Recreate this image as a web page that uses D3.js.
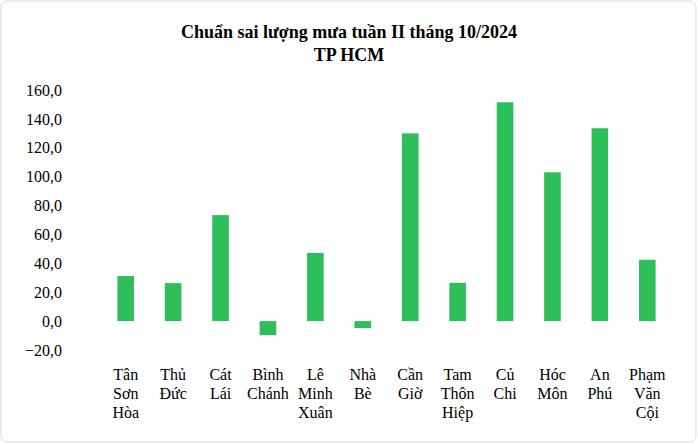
<!DOCTYPE html>
<html><head><meta charset="utf-8">
<script src="https://cdn.jsdelivr.net/npm/d3@7"></script>
<style>body{margin:0;background:#fff}svg{font-family:"Liberation Serif","Times New Roman",serif}</style>
</head><body><svg id="c" width="698" height="444"></svg>
<script>
const categories=[["Tân","Sơn","Hòa"],["Thủ","Đức"],["Cát","Lái"],["Bình","Chánh"],["Lê","Minh","Xuân"],["Nhà","Bè"],["Cần","Giờ"],["Tam","Thôn","Hiệp"],["Củ","Chi"],["Hóc","Môn"],["An","Phú"],["Phạm","Văn","Cội"]];
const values=[31.2,26.3,73.4,-9.7,47.2,-4.8,130.0,26.5,151.5,103.0,133.5,42.5];
const ticks=[-20,0,20,40,60,80,100,120,140,160];
const svg=d3.select("#c");
svg.append("rect").attr("x",1).attr("y",1).attr("width",695).attr("height",441).attr("rx",6).attr("fill","#fff").attr("stroke","#d9d9d9");
svg.append("text").attr("x",349).attr("y",38).attr("text-anchor","middle").attr("font-weight","bold").attr("font-size",18).text("Chuẩn sai lượng mưa tuần II tháng 10/2024");
svg.append("text").attr("x",349).attr("y",61).attr("text-anchor","middle").attr("font-weight","bold").attr("font-size",18).text("TP HCM");
const y=d3.scaleLinear().domain([-20,160]).range([350,90]);
const x=d3.scaleBand().domain(d3.range(categories.length)).range([102,671]).paddingInner(0.65).paddingOuter(0.325);
const ax=svg.append("g").attr("transform","translate(70,0)").call(d3.axisLeft(y).tickValues(ticks).tickSize(0).tickPadding(8).tickFormat(d=>d3.format(".1f")(d).replace(".",",")));
ax.select(".domain").remove();
ax.selectAll("text").attr("font-size",16).attr("font-family","Liberation Serif").attr("fill","#000");
svg.append("g").selectAll("rect").data(values).join("rect")
 .attr("x",(d,i)=>x(i)).attr("width",x.bandwidth())
 .attr("y",d=>y(Math.max(0,d))).attr("height",d=>Math.abs(y(d)-y(0))).attr("fill","#2fbf5a");
const xb=d3.scaleBand().domain(d3.range(categories.length)).range([102,671]);
const lab=svg.append("g").selectAll("text").data(categories).join("text")
 .attr("x",(d,i)=>xb(i)+xb.bandwidth()/2).attr("y",380).attr("text-anchor","middle").attr("font-size",16);
lab.each(function(d){d3.select(this).selectAll("tspan").data(d).join("tspan").attr("x",d3.select(this).attr("x")).attr("dy",(t,j)=>j?19:0).text(t=>t);});
</script></body></html>
